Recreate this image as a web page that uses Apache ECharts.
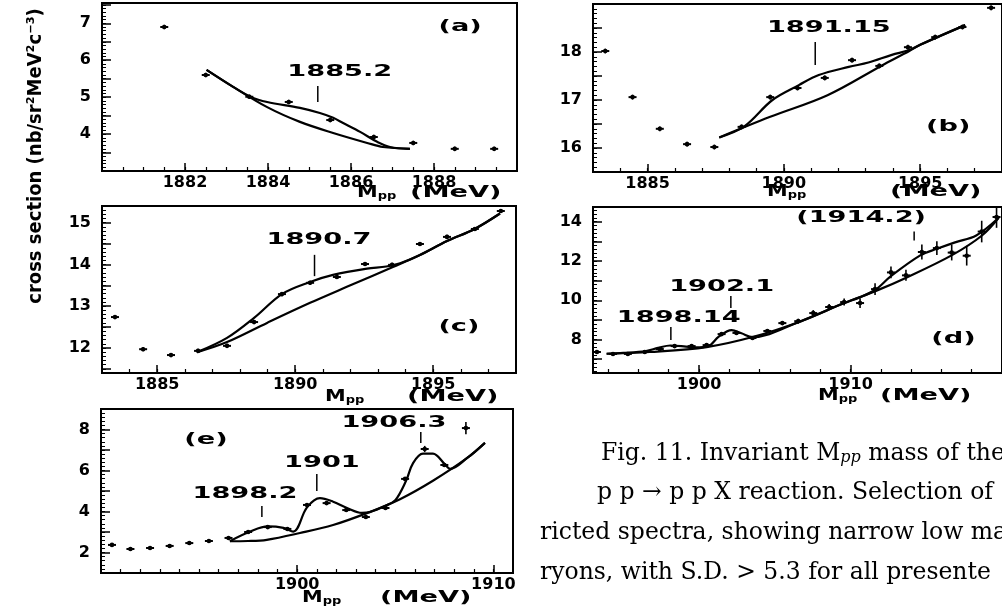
<!DOCTYPE html>
<html><head><meta charset="utf-8">
<script src="https://cdn.jsdelivr.net/npm/echarts@6/dist/echarts.min.js"></script>
<style>html,body{margin:0;padding:0;background:#fff}#c{width:1002px;height:612px}</style>
</head><body><div id="c"></div>
<script>
// ---------- panel (a) ----------
const aMass = [1881.5, 1882.5, 1883.55, 1884.5, 1885.5, 1886.55, 1887.5, 1888.5, 1889.45];
const aCross = [6.9, 5.6, 5.01, 4.87, 4.38, 3.92, 3.76, 3.6, 3.6];
const aErr = [0.06, 0.06, 0.06, 0.06, 0.06, 0.06, 0.06, 0.06, 0.06];
const aBgMass = [1882.52, 1883.16, 1883.98, 1884.77, 1885.57, 1886.39, 1886.77, 1887.42];
const aBgCross = [5.74, 5.28, 4.73, 4.33, 4.03, 3.76, 3.65, 3.6];
const aFitMass = [1882.52, 1883.16, 1883.6, 1883.98, 1884.77, 1885.25, 1885.57, 1885.81, 1886.22, 1886.63, 1886.94, 1887.42];
const aFitCross = [5.74, 5.28, 5.0, 4.87, 4.71, 4.57, 4.44, 4.3, 4.06, 3.79, 3.65, 3.6];
const aPeaks = [1885.2];
const aPeakLabels = ['1885.2'];
const aXTickLabels = [1882, 1884, 1886, 1888];
const aYTickLabels = [4, 5, 6, 7];

// ---------- panel (b) ----------
const bMass = [1883.45, 1884.45, 1885.45, 1886.45, 1887.45, 1888.45, 1889.5, 1890.5, 1891.5, 1892.5, 1893.5, 1894.55, 1895.55, 1896.55, 1897.6];
const bCross = [18.02, 17.06, 16.4, 16.08, 16.02, 16.44, 17.06, 17.25, 17.46, 17.83, 17.71, 18.1, 18.31, 18.52, 18.92];
const bErr = [0.05, 0.05, 0.05, 0.05, 0.05, 0.05, 0.05, 0.05, 0.05, 0.05, 0.05, 0.05, 0.05, 0.05, 0.05];
const bBgMass = [1887.63, 1889.5, 1891.6, 1893.6, 1894.6, 1895.0, 1896.65];
const bBgCross = [16.22, 16.65, 17.1, 17.72, 18.02, 18.15, 18.56];
const bFitMass = [1887.63, 1888.55, 1889.58, 1890.55, 1891.28, 1892.38, 1893.1, 1893.96, 1894.6, 1895.0, 1896.65];
const bFitCross = [16.22, 16.45, 17.0, 17.31, 17.52, 17.69, 17.78, 17.94, 18.04, 18.15, 18.56];
const bPeaks = [1891.15];
const bPeakLabels = ['1891.15'];
const bXTickLabels = [1885, 1890, 1895];
const bYTickLabels = [16, 17, 18];

// ---------- panel (c) ----------
const cMass = [1883.47, 1884.49, 1885.5, 1886.48, 1887.53, 1888.51, 1889.52, 1890.54, 1891.51, 1892.53, 1893.51, 1894.52, 1895.5, 1896.51, 1897.45];
const cCross = [12.74, 11.97, 11.83, 11.93, 12.05, 12.62, 13.29, 13.56, 13.7, 14.01, 13.99, 14.49, 14.66, 14.85, 15.28];
const cErr = [0.05, 0.05, 0.05, 0.05, 0.05, 0.05, 0.05, 0.05, 0.05, 0.05, 0.05, 0.05, 0.05, 0.05, 0.05];
const cBgMass = [1886.45, 1887.53, 1888.98, 1890.54, 1892.0, 1893.54, 1894.5, 1895.5, 1896.5, 1897.42];
const cBgCross = [11.9, 12.14, 12.6, 13.08, 13.5, 13.94, 14.22, 14.56, 14.85, 15.22];
const cFitMass = [1886.45, 1887.53, 1888.51, 1889.52, 1890.54, 1891.37, 1892.6, 1893.3, 1893.8, 1894.5, 1895.5, 1896.5, 1897.42];
const cFitCross = [11.9, 12.24, 12.72, 13.29, 13.58, 13.75, 13.9, 13.95, 14.03, 14.22, 14.56, 14.85, 15.22];
const cPeaks = [1890.7];
const cPeakLabels = ['1890.7'];
const cXTickLabels = [1885, 1890, 1895];
const cYTickLabels = [12, 13, 14, 15];

// ---------- panel (d) ----------
const dMass = [1893.26, 1894.32, 1895.3, 1896.42, 1897.41, 1898.39, 1899.51, 1900.5, 1901.49, 1902.47, 1903.53, 1904.51, 1905.5, 1906.55, 1907.54, 1908.59, 1909.58, 1910.63, 1911.62, 1912.67, 1913.66, 1914.71, 1915.7, 1916.68, 1917.67, 1918.66, 1919.64];
const dCross = [7.37, 7.27, 7.27, 7.37, 7.52, 7.67, 7.67, 7.72, 8.28, 8.34, 8.08, 8.44, 8.84, 8.94, 9.35, 9.66, 9.91, 9.86, 10.57, 11.42, 11.27, 12.46, 12.66, 12.43, 12.27, 13.5, 14.24];
const dErr = [0.08, 0.08, 0.08, 0.08, 0.08, 0.08, 0.08, 0.08, 0.08, 0.08, 0.08, 0.08, 0.1, 0.12, 0.15, 0.15, 0.18, 0.25, 0.3, 0.3, 0.28, 0.38, 0.35, 0.4, 0.5, 0.55, 0.55];
const dBgMass = [1893.9, 1896.75, 1900.5, 1903.53, 1906.6, 1909.58, 1911.68, 1913.64, 1916.7, 1918.68, 1919.78];
const dBgCross = [7.28, 7.37, 7.62, 8.13, 8.9, 9.86, 10.48, 11.14, 12.3, 13.3, 14.2];
const dFitMass = [1893.9, 1895.0, 1896.5, 1897.3, 1898.1, 1899.0, 1899.8, 1900.6, 1901.3, 1902.15, 1902.8, 1903.53, 1906.6, 1909.58, 1910.6, 1911.66, 1912.65, 1914.63, 1915.7, 1916.9, 1918.3, 1919.78];
const dFitCross = [7.28, 7.32, 7.42, 7.58, 7.7, 7.66, 7.6, 7.66, 8.15, 8.48, 8.32, 8.13, 8.9, 9.86, 10.15, 10.55, 11.22, 12.3, 12.62, 12.95, 13.3, 14.2];
const dPeaks = [1898.14, 1902.1, 1914.2];
const dPeakLabels = ['1898.14', '1902.1', '(1914.2)'];
const dXTickLabels = [1900, 1910];
const dYTickLabels = [8, 10, 12, 14];

// ---------- panel (e) ----------
const eMass = [1890.56, 1891.5, 1892.5, 1893.5, 1894.5, 1895.5, 1896.5, 1897.5, 1898.5, 1899.5, 1900.5, 1901.5, 1902.5, 1903.5, 1904.5, 1905.5, 1906.5, 1907.5, 1908.6];
const eCross = [2.37, 2.17, 2.22, 2.32, 2.46, 2.56, 2.71, 3.0, 3.24, 3.15, 4.32, 4.41, 4.07, 3.73, 4.17, 5.59, 7.05, 6.27, 8.07];
const eErr = [0.05, 0.05, 0.05, 0.05, 0.05, 0.05, 0.05, 0.05, 0.05, 0.05, 0.05, 0.05, 0.05, 0.05, 0.05, 0.08, 0.15, 0.1, 0.3];
const eBgMass = [1896.57, 1897.5, 1898.45, 1900.14, 1901.83, 1903.55, 1905.24, 1906.92, 1908.65, 1909.57];
const eBgCross = [2.55, 2.56, 2.62, 2.95, 3.34, 3.92, 4.6, 5.5, 6.6, 7.35];
const eFitMass = [1896.57, 1897.6, 1898.5, 1899.3, 1899.8, 1900.5, 1901.16, 1901.83, 1902.54, 1903.3, 1903.7, 1904.5, 1905.0, 1905.55, 1905.9, 1906.41, 1906.92, 1907.53, 1907.8, 1908.65, 1909.57];
const eFitCross = [2.55, 3.02, 3.27, 3.2, 3.02, 4.2, 4.65, 4.48, 4.17, 3.93, 3.97, 4.28, 4.55, 5.5, 6.35, 6.82, 6.82, 6.3, 6.08, 6.6, 7.35];
const ePeaks = [1898.2, 1901, 1906.3];
const ePeakLabels = ['1898.2', '1901', '1906.3'];
const eXTickLabels = [1900, 1910];
const eYTickLabels = [2, 4, 6, 8];

const yTitle = 'cross section (nb/sr²MeV²c⁻³)';
const captionLines = [
  'Fig. 11. Invariant M{s|pp} mass of the',
  'p p → p p X reaction. Selection of',
  'ricted spectra, showing narrow low ma',
  'ryons, with S.D. > 5.3 for all presente'
];

// ---------- helpers ----------
const FONT = '"DejaVu Sans", "Liberation Sans", sans-serif';
function steps(from, to, step) {
  const out = []; const n = Math.round((to - from) / step);
  for (let i = 0; i <= n; i++) out.push(+(from + i * step).toFixed(4));
  return out;
}
function pairs(xs, ys) { return xs.map((x, i) => [x, ys[i]]); }

const panels = [
  { grid: {left: 102, top: 3, width: 415, height: 168}, xRange: [1880, 1890], yRange: [3, 7.55],
    xLabels: aXTickLabels, xMinor: steps(1880.5, 1889.5, 0.5),
    yLabels: aYTickLabels, yMajor: steps(3.5, 7.5, 0.5), yMinor: steps(3.1, 7.5, 0.1),
    mass: aMass, cross: aCross, err: aErr, bg: pairs(aBgMass, aBgCross), fit: pairs(aFitMass, aFitCross),
    peaks: aPeaks, peakLabels: aPeakLabels,
    ann: [{y1: 4.87, y2: 5.3, lx: 1885.73, ly: 5.68}], letter: {text: '(a)', x: 1888.63, y: 6.9} },
  { grid: {left: 593, top: 4, width: 411, height: 168}, xRange: [1883, 1898], yRange: [15.5, 19],
    xLabels: bXTickLabels, xMinor: steps(1884, 1897, 1),
    yLabels: bYTickLabels, yMajor: steps(15.5, 19, 0.5), yMinor: steps(15.6, 18.9, 0.1),
    mass: bMass, cross: bCross, err: bErr, bg: pairs(bBgMass, bBgCross), fit: pairs(bFitMass, bFitCross),
    peaks: bPeaks, peakLabels: bPeakLabels,
    ann: [{y1: 17.73, y2: 18.21, lx: 1891.65, ly: 18.5}], letter: {text: '(b)', x: 1896.03, y: 16.44} },
  { grid: {left: 102, top: 206, width: 414, height: 167}, xRange: [1883, 1898], yRange: [11.4, 15.4],
    xLabels: cXTickLabels, xMinor: steps(1884, 1897, 1),
    yLabels: cYTickLabels, yMajor: steps(11.5, 15, 0.5), yMinor: steps(11.5, 15.3, 0.1),
    mass: cMass, cross: cCross, err: cErr, bg: pairs(cBgMass, cBgCross), fit: pairs(cFitMass, cFitCross),
    peaks: cPeaks, peakLabels: cPeakLabels,
    ann: [{y1: 13.72, y2: 14.23, lx: 1890.86, ly: 14.59}], letter: {text: '(c)', x: 1895.93, y: 12.5} },
  { grid: {left: 593, top: 207, width: 410, height: 166}, xRange: [1893, 1920], yRange: [6.3, 14.75],
    xLabels: dXTickLabels, xMinor: steps(1894, 1918, 2),
    yLabels: dYTickLabels, yMajor: steps(7, 14, 1), yMinor: steps(6.4, 14.6, 0.2),
    mass: dMass, cross: dCross, err: dErr, bg: pairs(dBgMass, dBgCross), fit: pairs(dFitMass, dFitCross),
    peaks: dPeaks, peakLabels: dPeakLabels,
    ann: [{y1: 7.98, y2: 8.64, lx: 1898.66, ly: 9.1}, {y1: 9.61, y2: 10.22, lx: 1901.49, ly: 10.68}, {y1: 13.05, y2: 13.5, lx: 1910.7, ly: 14.19}],
    letter: {text: '(d)', x: 1916.8, y: 8.03} },
  { grid: {left: 101, top: 409, width: 412, height: 164}, xRange: [1890, 1911], yRange: [1, 9],
    xLabels: eXTickLabels, xMinor: steps(1891, 1910, 1),
    yLabels: eYTickLabels, yMajor: steps(1, 9, 1), yMinor: steps(1.2, 8.8, 0.2),
    mass: eMass, cross: eCross, err: eErr, bg: pairs(eBgMass, eBgCross), fit: pairs(eFitMass, eFitCross),
    peaks: ePeaks, peakLabels: ePeakLabels,
    ann: [{y1: 3.73, y2: 4.27, lx: 1897.34, ly: 4.85}, {y1: 5.0, y2: 5.83, lx: 1901.26, ly: 6.37}, {y1: 7.34, y2: 7.88, lx: 1904.93, ly: 8.32}],
    letter: {text: '(e)', x: 1895.35, y: 7.49} }
];

const LABEL_FONT = 'bold 16px ' + FONT;
const STRETCH = 1.7;

function renderPoints(params, api) {
  const x = api.value(0), y = api.value(1), e = api.value(2);
  const c = api.coord([x, y]);
  const t = api.coord([x, y + e]), b = api.coord([x, y - e]);
  return {type: 'group', children: [
    {type: 'line', shape: {x1: c[0] - 4, y1: c[1], x2: c[0] + 4, y2: c[1]}, style: {stroke: '#000', lineWidth: 2}},
    {type: 'line', shape: {x1: c[0], y1: t[1], x2: c[0], y2: b[1]}, style: {stroke: '#000', lineWidth: 1.6}},
    {type: 'circle', shape: {cx: c[0], cy: c[1], r: 2.3}, style: {fill: '#000'}}
  ]};
}
function makeAnnRender(labels) {
  return function (params, api) {
    const px = api.value(0);
    const p1 = api.coord([px, api.value(1)]), p2 = api.coord([px, api.value(2)]);
    const pl = api.coord([api.value(3), api.value(4)]);
    return {type: 'group', children: [
      {type: 'line', shape: {x1: p1[0], y1: p1[1], x2: p2[0], y2: p2[1]}, style: {stroke: '#000', lineWidth: 1.5}},
      {type: 'text', x: pl[0], y: pl[1], scaleX: STRETCH,
       style: {text: labels[params.dataIndex], font: LABEL_FONT, fill: '#000', align: 'center', verticalAlign: 'middle'}}
    ]};
  };
}
function makeLetterRender(text) {
  return function (params, api) {
    const p = api.coord([api.value(0), api.value(1)]);
    return {type: 'text', x: p[0], y: p[1], scaleX: STRETCH,
      style: {text: text, font: LABEL_FONT, fill: '#000', align: 'center', verticalAlign: 'middle'}};
  };
}

const grids = [], xAxes = [], yAxes = [], series = [];
const fmt = v => String(v);
panels.forEach((p, i) => {
  grids.push(Object.assign({show: true, borderColor: '#000', borderWidth: 2, backgroundColor: 'transparent'}, p.grid));
  const axisLine = {show: true, onZero: false, lineStyle: {color: '#000', width: 2}};
  xAxes.push({type: 'value', gridIndex: i, position: 'bottom', min: p.xRange[0], max: p.xRange[1],
    axisLine: axisLine, splitLine: {show: false},
    axisTick: {show: true, inside: true, length: 8, lineStyle: {color: '#000', width: 1.5}, customValues: p.xLabels},
    axisLabel: {show: true, customValues: p.xLabels, formatter: fmt, color: '#000', fontFamily: FONT, fontWeight: 'bold', fontSize: 16, margin: 4}});
  xAxes.push({type: 'value', gridIndex: i, position: 'bottom', min: p.xRange[0], max: p.xRange[1],
    axisLine: {show: false}, splitLine: {show: false}, axisLabel: {show: false},
    axisTick: {show: true, inside: true, length: 4, lineStyle: {color: '#000', width: 1.2}, customValues: p.xMinor}});
  yAxes.push({type: 'value', gridIndex: i, position: 'left', min: p.yRange[0], max: p.yRange[1],
    axisLine: axisLine, splitLine: {show: false},
    axisTick: {show: true, inside: true, length: 9, lineStyle: {color: '#000', width: 1.5}, customValues: p.yMajor},
    axisLabel: {show: true, customValues: p.yLabels, formatter: fmt, color: '#000', fontFamily: FONT, fontWeight: 'bold', fontSize: 16, margin: 11}});
  yAxes.push({type: 'value', gridIndex: i, position: 'left', min: p.yRange[0], max: p.yRange[1],
    axisLine: {show: false}, splitLine: {show: false}, axisLabel: {show: false},
    axisTick: {show: true, inside: true, length: 4, lineStyle: {color: '#000', width: 1}, customValues: p.yMinor}});
  const xi = 2 * i, yi = 2 * i;
  const lineBase = {type: 'line', xAxisIndex: xi, yAxisIndex: yi, smooth: 0.35, symbol: 'none', silent: true,
    lineStyle: {color: '#000', width: 2.2}, z: 2};
  series.push(Object.assign({}, lineBase, {name: 'background ' + i, data: p.bg}));
  series.push(Object.assign({}, lineBase, {name: 'fit ' + i, data: p.fit}));
  series.push({type: 'custom', name: 'data ' + i, xAxisIndex: xi, yAxisIndex: yi, clip: false, z: 3, silent: true,
    renderItem: renderPoints, data: p.mass.map((m, k) => [m, p.cross[k], p.err[k]])});
  series.push({type: 'custom', name: 'peaks ' + i, xAxisIndex: xi, yAxisIndex: yi, clip: false, z: 4, silent: true,
    renderItem: makeAnnRender(p.peakLabels),
    data: p.peaks.map((m, k) => [m, p.ann[k].y1, p.ann[k].y2, p.ann[k].lx, p.ann[k].ly])});
  series.push({type: 'custom', name: 'letter ' + i, xAxisIndex: xi, yAxisIndex: yi, clip: false, z: 4, silent: true,
    renderItem: makeLetterRender(p.letter.text), data: [[p.letter.x, p.letter.y]]});
});

const axisNamePos = [
  {mx: 357, ex: 410, y: 193}, {mx: 767, ex: 890, y: 192}, {mx: 325, ex: 407, y: 397},
  {mx: 818, ex: 880, y: 396}, {mx: 302, ex: 380, y: 598}
];
const graphics = [];
axisNamePos.forEach(a => {
  graphics.push({type: 'text', x: a.mx, y: a.y, scaleX: 1.3, style: {text: '{m|M}{s|pp}', fill: '#000', align: 'left', verticalAlign: 'middle',
    rich: {m: {font: 'bold 16px ' + FONT, fill: '#000'}, s: {font: 'bold 10px ' + FONT, fill: '#000', verticalAlign: 'bottom', padding: [6, 0, 0, 0]}}}});
  graphics.push({type: 'text', x: a.ex, y: a.y, scaleX: STRETCH, style: {text: '(MeV)', font: 'bold 16px ' + FONT, fill: '#000', align: 'left', verticalAlign: 'middle'}});
});
graphics.push({type: 'text', x: 36, y: 156, rotation: Math.PI / 2,
  style: {text: yTitle, font: 'bold 20px "DejaVu Sans Condensed", ' + FONT, fill: '#000', align: 'center', verticalAlign: 'middle'}});
const capPos = [{x: 601, y: 454}, {x: 597, y: 493}, {x: 540, y: 533}, {x: 540, y: 573}];
captionLines.forEach((t, k) => {
  graphics.push({type: 'text', x: capPos[k].x, y: capPos[k].y,
    style: {text: t, font: '23.5px "DejaVu Serif", serif', fill: '#000', align: 'left', verticalAlign: 'middle',
      rich: {s: {font: 'italic 16px "DejaVu Serif", serif', fill: '#000', verticalAlign: 'bottom', padding: [8, 0, 0, 0]}}}});
});

const chart = echarts.init(document.getElementById('c'), null, {renderer: 'canvas'});
chart.setOption({
  animation: false,
  backgroundColor: '#fff',
  grid: grids, xAxis: xAxes, yAxis: yAxes, series: series,
  graphic: graphics
});
</script></body></html>
